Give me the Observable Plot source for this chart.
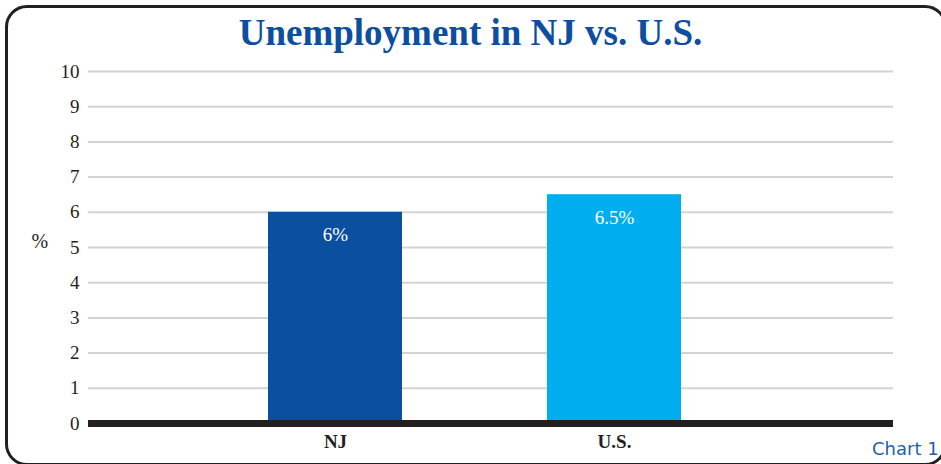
<!DOCTYPE html>
<html>
<head>
<meta charset="utf-8">
<script src="https://cdn.jsdelivr.net/npm/d3@7"></script>
<script src="https://cdn.jsdelivr.net/npm/@observablehq/plot@0.6"></script>
<style>
  html, body { margin: 0; padding: 0; background: #fff; overflow: hidden; }
  #wrap { position: relative; width: 941px; height: 464px; overflow: hidden; }
  #frame { position: absolute; left: 5px; top: 5px; width: 942px; height: 461px; box-sizing: border-box;
           border: 3px solid #231f20; border-radius: 22px; }
  #title { position: absolute; left: 0; top: 13px; width: 941px; text-align: center;
           font-family: "Liberation Serif", serif; font-weight: bold; font-size: 37px; color: #0d4ea1;
           line-height: 40px; white-space: nowrap; }
  #chart { position: absolute; left: 0; top: 56px; }
  #note { position: absolute; left: 872px; top: 438px; font-family: "DejaVu Sans", Verdana, sans-serif;
          font-size: 18px; line-height: 22px; color: #1f5fae; white-space: nowrap; }
</style>
</head>
<body>
<div id="wrap">
  <div id="frame"></div>
  <div id="title">Unemployment in NJ vs. U.S.</div>
  <div id="chart"></div>
  <div id="note">Chart 1</div>
</div>
<script>
const categories = ["NJ", "U.S."];
const values = [6, 6.5];
const colors = ["#0b4fa1", "#00aeef"];
const yTicks = [0, 1, 2, 3, 4, 5, 6, 7, 8, 9, 10];

const data = categories.map((c, i) => ({name: c, value: values[i], color: colors[i]}));

const chart = Plot.plot({
  width: 941,
  height: 408,
  marginTop: 15,
  marginBottom: 41,
  marginLeft: 88,
  marginRight: 48,
  style: {fontFamily: "'Liberation Serif', serif", background: "transparent", overflow: "visible"},
  x: {domain: categories, paddingInner: 0.52, paddingOuter: 0.7, align: 0.46, label: null},
  y: {domain: [0, 10], label: null},
  marks: [
    Plot.ruleY(yTicks.filter(d => d > 0), {stroke: "#d3d3d3", strokeWidth: 2}),
    Plot.barY(data, {x: "name", y: "value", fill: "color"}),
    Plot.ruleY([0], {stroke: "#231f20", strokeWidth: 7}),
    Plot.text(data, {x: "name", y: "value", text: d => d.value + "%", dy: 23, fill: "white", fontSize: 19}),
    Plot.axisY({ticks: yTicks, tickSize: 0, tickPadding: 9, fontSize: 19, fill: "#231f20", label: null}),
    Plot.axisX({tickSize: 0, tickPadding: 11, fontSize: 19, fontWeight: "bold", fill: "#231f20", label: null}),
    Plot.text(["%"], {frameAnchor: "left", dx: -57, dy: -6, fontSize: 20, fill: "#231f20"})
  ]
});
document.getElementById("chart").appendChild(chart);
</script>
</body>
</html>
